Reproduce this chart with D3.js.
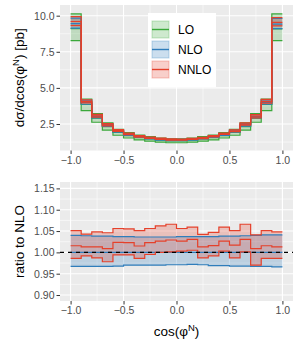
<!DOCTYPE html>
<html>
<head>
<meta charset="utf-8">
<script src="https://cdn.jsdelivr.net/npm/d3@7"></script>
<style>
  body { margin: 0; background: #fff; }
  svg { display: block; font-family: "Liberation Sans", Arial, sans-serif; }
</style>
</head>
<body>
<div id="chart"></div>
<script>
// bin edges of cos(phi^N)
const binEdges = [-1.0, -0.9, -0.8, -0.7, -0.6, -0.5, -0.4, -0.3, -0.2, -0.1, 0.0,
                  0.1, 0.2, 0.3, 0.4, 0.5, 0.6, 0.7, 0.8, 0.9, 1.0]

// LO [pb]
const loCentral = [9.10, 3.85, 2.90, 2.32, 1.92, 1.70, 1.56, 1.46, 1.38, 1.33,
                   1.33, 1.38, 1.46, 1.56, 1.70, 1.92, 2.32, 2.90, 3.85, 9.08]
const loLow     = [8.27, 3.42, 2.62, 2.08, 1.72, 1.53, 1.40, 1.31, 1.24, 1.20,
                   1.20, 1.24, 1.31, 1.40, 1.53, 1.72, 2.08, 2.62, 3.42, 8.27]
const loHigh    = [10.12, 4.23, 3.22, 2.58, 2.13, 1.90, 1.73, 1.62, 1.53, 1.48,
                   1.48, 1.53, 1.62, 1.73, 1.90, 2.13, 2.58, 3.22, 4.23, 10.12]

// NLO central [pb]
const nloCentral = [9.45, 4.00, 3.02, 2.42, 2.00, 1.77, 1.62, 1.51, 1.43, 1.38,
                    1.38, 1.43, 1.51, 1.62, 1.77, 2.00, 2.42, 3.02, 4.00, 9.42]

// ratios to NLO central
const nloLowRatio  = [0.967, 0.967, 0.967, 0.967, 0.968, 0.970, 0.970, 0.970, 0.970, 0.971,
                      0.971, 0.972, 0.971, 0.969, 0.969, 0.968, 0.968, 0.967, 0.967, 0.966]
const nloHighRatio = [1.040, 1.039, 1.038, 1.038, 1.037, 1.037, 1.036, 1.036, 1.036, 1.036,
                      1.037, 1.037, 1.037, 1.037, 1.038, 1.038, 1.039, 1.040, 1.041, 1.041]
const nnloLowRatio     = [0.986, 0.992, 0.987, 0.978, 0.994, 0.994, 0.986, 0.995, 1.000, 1.001,
                          1.003, 1.005, 0.987, 0.992, 1.003, 0.987, 1.001, 0.970, 0.986, 0.986]
const nnloCentralRatio = [1.0155, 1.013, 1.013, 1.009, 1.0235, 1.023, 1.015, 1.023, 1.0265, 1.029,
                          1.0265, 1.0305, 1.013, 1.016, 1.0265, 1.017, 1.0305, 1.009, 1.0155, 1.013]
const nnloHighRatio    = [1.051, 1.043, 1.048, 1.046, 1.056, 1.055, 1.051, 1.056, 1.062, 1.066,
                          1.056, 1.059, 1.042, 1.047, 1.059, 1.051, 1.066, 1.041, 1.051, 1.048]

const orders = ['LO', 'NLO', 'NNLO']
const colors = { LO: '#3aa83a', NLO: '#2f7dbb', NNLO: '#e5402a' }

const xTicks = [-1.0, -0.5, 0.0, 0.5, 1.0]
const topTicks = [2.5, 5.0, 7.5, 10.0]
const bottomTicks = [0.90, 0.95, 1.00, 1.05, 1.10, 1.15]

// absolute values per order
const absData = {
    LO: { low: loLow, mid: loCentral, high: loHigh },
    NLO: {
        low: nloCentral.map((v, i) => v * nloLowRatio[i]),
        mid: nloCentral,
        high: nloCentral.map((v, i) => v * nloHighRatio[i])
    },
    NNLO: {
        low: nloCentral.map((v, i) => v * nnloLowRatio[i]),
        mid: nloCentral.map((v, i) => v * nnloCentralRatio[i]),
        high: nloCentral.map((v, i) => v * nnloHighRatio[i])
    }
}
const ratioData = {
    NLO: { low: nloLowRatio, mid: nloCentral.map(() => 1), high: nloHighRatio },
    NNLO: { low: nnloLowRatio, mid: nnloCentralRatio, high: nnloHighRatio }
}

const width = 300, height = 350
const svg = d3.select('#chart').append('svg')
    .attr('width', width)
    .attr('height', height)

const x = d3.scaleLinear().domain([-1.1, 1.1]).range([60, 293])
const yTop = d3.scaleLinear().domain([0.665, 10.74]).range([150.5, 5])
const yBot = d3.scaleLinear().domain([0.886, 1.165]).range([301, 182])

const minorOf = (ticks) => ticks.slice(1).map((t, i) => (t + ticks[i]) / 2)

const stepPoints = (lo, hi) => lo.flatMap((v, i) => [
    { x: binEdges[i], lo: v, hi: hi ? hi[i] : v },
    { x: binEdges[i + 1], lo: v, hi: hi ? hi[i] : v }
])

drawPanel = (y, yTicks, data, list, fmt) => {
    const [x0, x1] = x.range()
    const [y0, y1] = y.range()
    const g = svg.append('g')

    g.append('rect')
        .attr('x', x0).attr('y', y1)
        .attr('width', x1 - x0).attr('height', y0 - y1)
        .attr('fill', '#ebebeb')

    const xMinor = [-1.25, -0.75, -0.25, 0.25, 0.75, 1.25].filter(d => d > -1.1 && d < 1.1)
    const yMinor = minorOf([yTicks[0] - (yTicks[1] - yTicks[0])].concat(yTicks, [yTicks[yTicks.length - 1] + (yTicks[1] - yTicks[0])]))
        .filter(d => d > y.domain()[0] && d < y.domain()[1])

    g.selectAll('.ymin').data(yMinor).join('line')
        .attr('x1', x0).attr('x2', x1)
        .attr('y1', d => y(d)).attr('y2', d => y(d))
        .attr('stroke', '#fff').attr('stroke-width', 0.55)
    g.selectAll('.xmin').data(xMinor).join('line')
        .attr('y1', y0).attr('y2', y1)
        .attr('x1', d => x(d)).attr('x2', d => x(d))
        .attr('stroke', '#fff').attr('stroke-width', 0.55)
    g.selectAll('.ymaj').data(yTicks).join('line')
        .attr('x1', x0).attr('x2', x1)
        .attr('y1', d => y(d)).attr('y2', d => y(d))
        .attr('stroke', '#fff').attr('stroke-width', 1.1)
    g.selectAll('.xmaj').data(xTicks).join('line')
        .attr('y1', y0).attr('y2', y1)
        .attr('x1', d => x(d)).attr('x2', d => x(d))
        .attr('stroke', '#fff').attr('stroke-width', 1.1)

    const area = d3.area().x(d => x(d.x)).y0(d => y(d.lo)).y1(d => y(d.hi))
    const line = d3.line().x(d => x(d.x)).y(d => y(d.lo))

    const clipId = 'clip' + Math.round(y1)
    svg.append('clipPath').attr('id', clipId)
        .append('rect').attr('x', x0).attr('y', y1).attr('width', x1 - x0).attr('height', y0 - y1)
    const plot = g.append('g').attr('clip-path', `url(#${clipId})`)

    list.forEach(o => {
        plot.append('path')
            .attr('d', area(stepPoints(data[o].low, data[o].high)))
            .attr('fill', colors[o]).attr('fill-opacity', 0.25)
    })
    list.forEach(o => {
        ['low', 'mid', 'high'].forEach(k => {
            plot.append('path')
                .attr('d', line(stepPoints(data[o][k])))
                .attr('fill', 'none')
                .attr('stroke', colors[o]).attr('stroke-width', 1.2)
        })
    })

    // axes
    const yAxis = g.append('g')
        .attr('transform', `translate(${x0},0)`)
        .call(d3.axisLeft(y).tickValues(yTicks).tickFormat(fmt).tickSize(3.5).tickPadding(2))
    const xAxis = g.append('g')
        .attr('transform', `translate(0,${y0})`)
        .call(d3.axisBottom(x).tickValues(xTicks).tickFormat(d => d3.format('.1f')(d).replace('-', '\u2212')).tickSize(3.5).tickPadding(2.5))
    ;[yAxis, xAxis].forEach(a => {
        a.select('.domain').remove()
        a.selectAll('line').attr('stroke', '#333').attr('stroke-width', 1)
        a.selectAll('text').attr('fill', '#4d4d4d').attr('font-size', 10.5)
            .attr('font-family', '"Liberation Sans", Arial, sans-serif')
    })
    return plot
}

drawPanel(yTop, topTicks, absData, orders, d3.format('.1f'))
const ratioPlot = drawPanel(yBot, bottomTicks, ratioData, ['NLO', 'NNLO'], d3.format('.2f'))

ratioPlot.append('line')
    .attr('x1', x.range()[0]).attr('x2', x.range()[1])
    .attr('y1', yBot(1)).attr('y2', yBot(1))
    .attr('stroke', '#000').attr('stroke-width', 1.1)
    .attr('stroke-dasharray', '4,4')

// legend
const legend = svg.append('g').attr('transform', 'translate(148,13)')
legend.append('rect').attr('width', 68).attr('height', 74).attr('fill', '#fff')
orders.forEach((o, i) => {
    const gy = 7 + i * 20
    legend.append('rect')
        .attr('x', 4).attr('y', gy + 1).attr('width', 17).attr('height', 17)
        .attr('fill', colors[o]).attr('fill-opacity', 0.25)
        .attr('stroke', colors[o]).attr('stroke-opacity', 0.3).attr('stroke-width', 1)
    legend.append('line')
        .attr('x1', 4).attr('x2', 21).attr('y1', gy + 9.5).attr('y2', gy + 9.5)
        .attr('stroke', colors[o]).attr('stroke-width', 1.4)
    legend.append('text')
        .attr('x', 30).attr('y', gy + 13.8)
        .attr('font-size', 12).attr('fill', '#000')
        .text(o)
})

// axis titles
const topTitle = svg.append('text')
    .attr('transform', `translate(24,${(yTop.range()[0] + yTop.range()[1]) / 2}) rotate(-90)`)
    .attr('text-anchor', 'middle').attr('font-size', 13.5).attr('fill', '#000')
topTitle.append('tspan').text('d\u03c3/dcos(\u03c6')
topTitle.append('tspan').attr('font-size', 9.5).attr('dy', -5.5).text('N')
topTitle.append('tspan').attr('dy', 5.5).text(') [pb]')

svg.append('text')
    .attr('transform', `translate(24,${(yBot.range()[0] + yBot.range()[1]) / 2}) rotate(-90)`)
    .attr('text-anchor', 'middle').attr('font-size', 13.5).attr('fill', '#000')
    .text('ratio to NLO')

const xTitle = svg.append('text')
    .attr('x', (x.range()[0] + x.range()[1]) / 2).attr('y', 336)
    .attr('text-anchor', 'middle').attr('font-size', 13.5).attr('fill', '#000')
xTitle.append('tspan').text('cos(\u03c6')
xTitle.append('tspan').attr('font-size', 9.5).attr('dy', -5.5).text('N')
xTitle.append('tspan').attr('dy', 5.5).text(')')
</script>
</body>
</html>
